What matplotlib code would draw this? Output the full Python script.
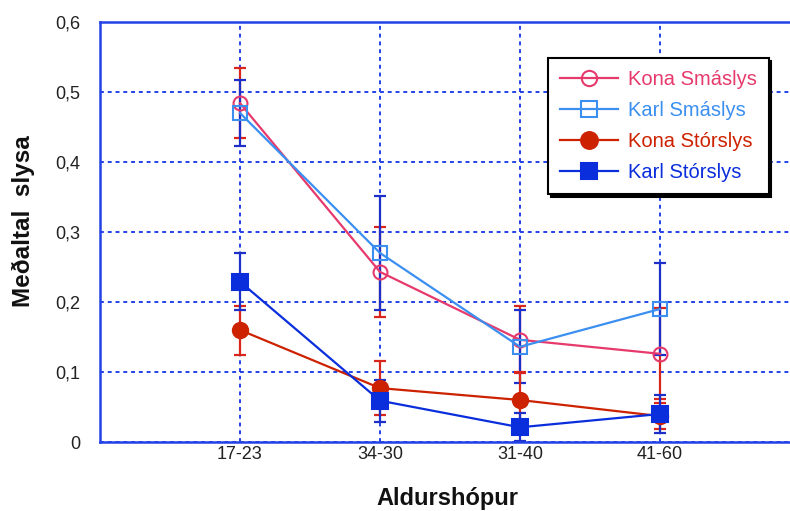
import matplotlib
matplotlib.use("Agg")
import matplotlib.pyplot as plt
import numpy as np

plt.rcParams['font.family'] = ['Liberation Sans', 'DejaVu Sans']

# Age groups on the x axis
age_groups = ["17-23", "34-30", "31-40", "41-60"]

# Mean accident rate and error (half-range) for each group
kona_smaslys = [0.484, 0.243, 0.146, 0.126]
kona_smaslys_err = [0.050, 0.064, 0.048, 0.065]
karl_smaslys = [0.470, 0.270, 0.136, 0.190]
karl_smaslys_err = [0.047, 0.081, 0.052, 0.066]
kona_storslys = [0.160, 0.077, 0.060, 0.037]
kona_storslys_err = [0.035, 0.039, 0.040, 0.019]
karl_storslys = [0.229, 0.059, 0.021, 0.040]
karl_storslys_err = [0.041, 0.030, 0.020, 0.027]

y_ticks = [0, 0.1, 0.2, 0.3, 0.4, 0.5, 0.6]
y_tick_labels = ["0", "0,1", "0,2", "0,3", "0,4", "0,5", "0,6"]

grid_blue = "#2342e6"
err_red = "#d8261c"
err_blue = "#1c2fc8"

fig = plt.figure(figsize=(7.9, 5.11), dpi=100)
ax = fig.add_axes([100 / 790, 69 / 511, 700 / 790, 420 / 511])

x = np.arange(1, len(age_groups) + 1)

series = [
    ("Kona Smáslys", kona_smaslys, kona_smaslys_err, "#e63a6c", "o", "none", 10, err_red),
    ("Karl Smáslys", karl_smaslys, karl_smaslys_err, "#3b8ff0", "s", "none", 10, err_blue),
    ("Kona Stórslys", kona_storslys, kona_storslys_err, "#cc2200", "o", "#cc2200", 11, err_red),
    ("Karl Stórslys", karl_storslys, karl_storslys_err, "#0a2edb", "s", "#0a2edb", 11, err_blue),
]

# Error bars behind the lines and markers
for name, vals, errs, color, marker, fc, ms, ecol in series:
    ax.errorbar(x, vals, yerr=errs, fmt="none", ecolor=ecol, elinewidth=1.6,
                capsize=4, capthick=1.6, zorder=2)

handles = []
draw_order = [2, 3, 0, 1]
for i in draw_order:
    name, vals, errs, color, marker, fc, ms, ecol = series[i]
    h, = ax.plot(x, vals, color=color, lw=1.6, marker=marker, markersize=ms,
                 markerfacecolor=fc, markeredgecolor=color, markeredgewidth=1.5,
                 label=name, zorder=3 + i)
    handles.append((i, h))
handles = [h for i, h in sorted(handles, key=lambda t: t[0])]

ax.set_xlim(0, 5)
ax.set_ylim(0, 0.6)
ax.set_xticks(x)
ax.set_xticklabels(age_groups, fontsize=13)
ax.set_yticks(y_ticks)
ax.set_yticklabels(y_tick_labels, fontsize=13)
ax.tick_params(axis="both", length=0, colors="#222222")
ax.tick_params(axis="y", pad=14)
ax.tick_params(axis="x", pad=3)

ax.grid(True, color=grid_blue, linestyle=(0, (2, 2)), linewidth=1.4)
ax.set_axisbelow(True)
for side in ["left", "top", "bottom", "right"]:
    ax.spines[side].set_color(grid_blue)
    ax.spines[side].set_linewidth(1.8)

fig.text(23 / 790, 1 - 221 / 511, "Meðaltal  slysa", rotation=90, fontsize=17.5,
         fontweight="bold", ha="center", va="center", color="#111111")
fig.text(447 / 790, 1 - 498 / 511, "Aldurshópur", fontsize=17,
         fontweight="bold", ha="center", va="center", color="#111111")

leg = ax.legend(handles=handles, loc="upper left",
                bbox_to_anchor=(548 / 790, 1 - 58 / 511),
                bbox_transform=fig.transFigure, borderaxespad=0,
                fontsize=14.5, labelcolor="linecolor", frameon=True,
                fancybox=False, edgecolor="black", framealpha=1,
                shadow={"color": "black", "alpha": 1},
                handlelength=2.9, handletextpad=0.45, labelspacing=0.6,
                borderpad=0.6, markerscale=1.1)
leg.get_frame().set_linewidth(1.5)
leg.set_zorder(10)

fig.savefig("out.png", dpi=100)
